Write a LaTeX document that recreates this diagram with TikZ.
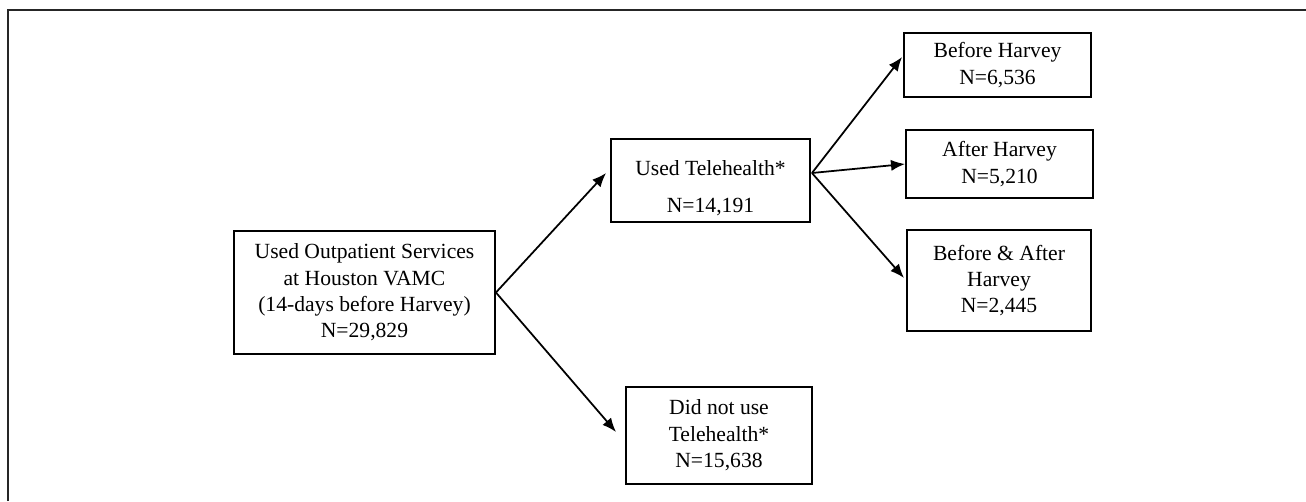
\documentclass[tikz,border=0pt]{standalone}
\usepackage{fontspec}
\setmainfont{Liberation Serif}
\usepackage{tikz}
\usetikzlibrary{arrows.meta, positioning}

\begin{document}
\begin{tikzpicture}[x=0.02cm, y=-0.02cm,
  every node/.style={align=center, font=\fontsize{12.3}{15}\selectfont},
  box/.style={draw, line width=1.1pt, inner sep=0pt},
  arr/.style={-{Latex[length=8pt, width=6.4pt]}, line width=1pt}]
\useasboundingbox (0,0) rectangle (1306,501);
% Frame
\draw[line width=1.1pt, black!85] (8,501) -- (8,10) -- (1306,10);

% Base nodes
\node (Outpt) [box, minimum width=5.22cm, minimum height=2.46cm] at (364.5,292.5)
  {Used Outpatient Services\\at Houston VAMC\\(14-days before Harvey)\\N=29,829};
\node (Tele) [box, minimum width=3.98cm, minimum height=1.66cm] at (710.5,180.5)
  {\rule{0pt}{17.5pt}Used Telehealth*\\[6pt]N=14,191};
\node (NoTele) [box, minimum width=3.72cm, minimum height=1.94cm] at (719,435.5)
  {Did not use\\Telehealth*\\N=15,638};

% Telehealth split
\node (Before) [box, minimum width=3.74cm, minimum height=1.28cm] at (997.5,65)
  {Before Harvey\\N=6,536};
\node (After) [box, minimum width=3.74cm, minimum height=1.36cm] at (999.5,164)
  {After Harvey\\N=5,210};
\node (Both) [box, minimum width=3.68cm, minimum height=2.02cm] at (999,280.5)
  {Before \& After\\Harvey\\N=2,445};

% Arrows
\draw[arr] (Outpt.east) -- ([shift={(-4,-7.5)}]Tele.west);
\draw[arr] (Outpt.east) -- ([shift={(-9,-3.5)}]NoTele.west);
\draw[arr] ([shift={(1,-7.5)}]Tele.east) -- ([shift={(-1,-8)}]Before.west);
\draw[arr] ([shift={(1,-7.5)}]Tele.east) -- (After.west);
\draw[arr] ([shift={(1,-7.5)}]Tele.east) -- ([shift={(-2,-2.5)}]Both.west);
\end{tikzpicture}
\end{document}
